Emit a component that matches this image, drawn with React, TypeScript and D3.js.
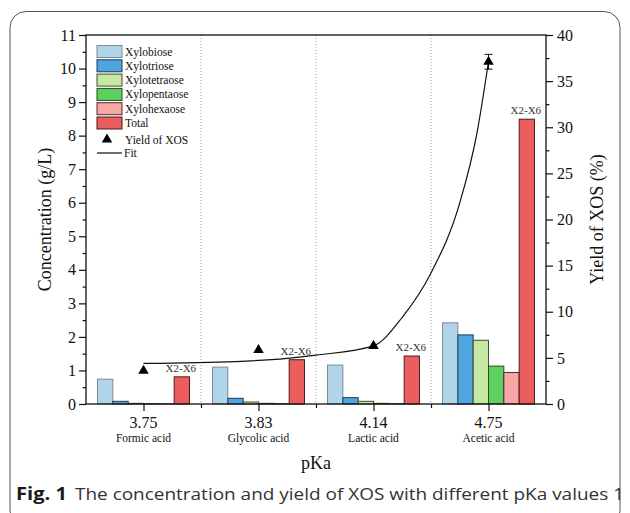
import React, { useEffect, useRef } from 'react';
import * as d3 from 'd3';

// categories
const pKaLabels = ['3.75', '3.83', '4.14', '4.75'];
const acidNames = ['Formic acid', 'Glycolic acid', 'Lactic acid', 'Acetic acid'];
const seriesNames = ['Xylobiose', 'Xylotriose', 'Xylotetraose', 'Xylopentaose', 'Xylohexaose', 'Total'];

// concentration (g/L), per acid
const xylobiose = [0.74, 1.1, 1.16, 2.42];
const xylotriose = [0.08, 0.17, 0.19, 2.06];
const xylotetraose = [0.02, 0.06, 0.08, 1.9];
const xylopentaose = [0.01, 0.02, 0.02, 1.13];
const xylohexaose = [0.005, 0.01, 0.01, 0.94];
const total = [0.81, 1.32, 1.43, 8.49];

// yield of XOS (%)
const yieldXOS = [3.6, 5.85, 6.3, 37.1];
const yieldErr = [0, 0, 0, 0.8];

// fit curve (x = category index, y = yield %)
const fitIndex = [0, 0.8, 1.25, 1.5, 2, 2.25, 2.5, 2.75, 2.9, 3];
const fitYield = [4.4, 4.6, 4.95, 5.3, 6.3, 9.4, 14.2, 21.8, 29.4, 37.1];

const concTicks = [0, 1, 2, 3, 4, 5, 6, 7, 8, 9, 10, 11];
const yieldTicks = [0, 5, 10, 15, 20, 25, 30, 35, 40];

const fills = ['#b0d4e8', '#4ea5e0', '#c6e8a2', '#5fcf5f', '#f9a6a6', '#ec5d5d'];
const strokes = ['#7d8b95', '#1f3b55', '#3f4f30', '#244d24', '#4d2b2b', '#4a1c1c'];

const serif = '"Liberation Serif", "Times New Roman", serif';

const Chart = ({ width = 630, height = 513 }) => {
  const svgRef = useRef<SVGSVGElement>(null);

  useEffect(() => {
    const svgEl = d3.select(svgRef.current);
    svgEl.selectAll('*').remove();
    svgEl.attr('width', width).attr('height', height);

    const left = 86, right = 546, top = 35, bottom = 404;
    const values = [xylobiose, xylotriose, xylotetraose, xylopentaose, xylohexaose, total];

    // outer rounded frame
    svgEl.append('rect')
      .attr('x', 10).attr('y', 11.5)
      .attr('width', 610).attr('height', 515)
      .attr('rx', 16)
      .style('fill', 'none')
      .style('stroke', '#555')
      .style('stroke-width', 1);

    const x0 = d3.scaleBand<number>()
      .domain(d3.range(pKaLabels.length))
      .range([left, right])
      .padding(0);
    const x1 = d3.scaleBand<number>()
      .domain(d3.range(seriesNames.length))
      .range([0, x0.bandwidth()])
      .paddingInner(0)
      .paddingOuter(0.75);
    const xIdx = d3.scaleLinear()
      .domain([-0.5, pKaLabels.length - 0.5])
      .range([left, right]);

    const yC = d3.scaleLinear().domain([0, 11]).range([bottom, top]);
    const yY = d3.scaleLinear().domain([0, 40]).range([bottom, top]);

    const svg = svgEl.append('g');

    // dotted dividers
    for (let i = 1; i < pKaLabels.length; i++) {
      const xx = x0(i)!;
      svg.append('line')
        .attr('x1', xx).attr('x2', xx)
        .attr('y1', top).attr('y2', bottom)
        .style('stroke', '#9a9a9a')
        .style('stroke-width', 1)
        .style('stroke-dasharray', '1,2');
    }

    // bars
    pKaLabels.forEach((_, g) => {
      values.forEach((vals, s) => {
        const v = vals[g];
        svg.append('rect')
          .attr('x', x0(g)! + x1(s)!)
          .attr('y', yC(v))
          .attr('width', x1.bandwidth())
          .attr('height', bottom - yC(v))
          .style('fill', fills[s])
          .style('stroke', strokes[s])
          .style('stroke-width', 1);
      });
      svg.append('text')
        .attr('x', x0(g)! + x1(5)! + x1.bandwidth() / 2 - 1)
        .attr('y', yC(total[g]) - 5)
        .style('text-anchor', 'middle')
        .style('font-family', serif)
        .style('font-size', '11px')
        .style('fill', '#333')
        .text('X2-X6');
    });

    // fit curve
    const fitLine = d3.line<number>()
      .x((_, i) => xIdx(fitIndex[i]))
      .y(d => yY(d))
      .curve(d3.curveMonotoneX);
    svg.append('path')
      .attr('d', fitLine(fitYield))
      .style('fill', 'none')
      .style('stroke', '#111')
      .style('stroke-width', 1.2);

    // yield points + error bars
    const tri = d3.symbol().type(d3.symbolTriangle).size(48);
    yieldXOS.forEach((v, i) => {
      const cx = xIdx(i);
      if (yieldErr[i] > 0) {
        const y1 = yY(v + yieldErr[i]), y2 = yY(v - yieldErr[i]);
        svg.append('line').attr('x1', cx).attr('x2', cx).attr('y1', y1).attr('y2', y2)
          .style('stroke', '#111').style('stroke-width', 1);
        [y1, y2].forEach(yy => {
          svg.append('line').attr('x1', cx - 4).attr('x2', cx + 4).attr('y1', yy).attr('y2', yy)
            .style('stroke', '#111').style('stroke-width', 1);
        });
      }
      svg.append('path')
        .attr('d', tri()!)
        .attr('transform', `translate(${cx},${yY(v)})`)
        .style('fill', '#000');
    });

    // frame
    svg.append('rect')
      .attr('x', left).attr('y', top)
      .attr('width', right - left).attr('height', bottom - top)
      .style('fill', 'none')
      .style('stroke', '#111')
      .style('stroke-width', 1.3);

    // left axis
    const axisL = d3.axisLeft(yC).tickValues(concTicks).tickSize(7).tickPadding(3).tickSizeOuter(0);
    const gL = svg.append('g').attr('transform', `translate(${left},0)`).call(axisL);
    const axisLminor = d3.axisLeft(yC).tickValues(d3.range(0.5, 11, 1)).tickSize(3.5).tickFormat(() => '').tickSizeOuter(0);
    const gLm = svg.append('g').attr('transform', `translate(${left},0)`).call(axisLminor);

    // right axis
    const axisR = d3.axisRight(yY).tickValues(yieldTicks).tickSize(7).tickPadding(4).tickSizeOuter(0);
    const gR = svg.append('g').attr('transform', `translate(${right},0)`).call(axisR);
    const axisRminor = d3.axisRight(yY).tickValues(d3.range(2.5, 40, 5)).tickSize(3.5).tickFormat(() => '').tickSizeOuter(0);
    const gRm = svg.append('g').attr('transform', `translate(${right},0)`).call(axisRminor);

    // bottom axis: major at group centers, minor at dividers
    const axisB = d3.axisBottom(xIdx).tickValues(d3.range(pKaLabels.length)).tickSize(7).tickFormat(() => '').tickSizeOuter(0);
    const gB = svg.append('g').attr('transform', `translate(0,${bottom})`).call(axisB);
    const axisBminor = d3.axisBottom(xIdx).tickValues([0.5, 1.5, 2.5]).tickSize(4).tickFormat(() => '').tickSizeOuter(0);
    const gBm = svg.append('g').attr('transform', `translate(0,${bottom})`).call(axisBminor);

    [gL, gLm, gR, gRm, gB, gBm].forEach(g => {
      g.select('.domain').remove();
      g.selectAll('line').style('stroke', '#111').style('stroke-width', 1.2);
      g.selectAll('text')
        .style('font-family', serif)
        .style('font-size', '16px')
        .style('fill', '#111');
    });

    // category labels
    pKaLabels.forEach((lab, i) => {
      svg.append('text')
        .attr('x', xIdx(i)).attr('y', 428)
        .style('text-anchor', 'middle')
        .style('font-family', serif)
        .style('font-size', '16px')
        .style('fill', '#111')
        .text(lab);
      svg.append('text')
        .attr('x', xIdx(i)).attr('y', 441.5)
        .style('text-anchor', 'middle')
        .style('font-family', serif)
        .style('font-size', '11.5px')
        .style('fill', '#111')
        .text(acidNames[i]);
    });

    // axis titles
    svg.append('text')
      .attr('transform', `translate(51,${(top + bottom) / 2}) rotate(-90)`)
      .style('text-anchor', 'middle')
      .style('font-family', serif)
      .style('font-size', '18px')
      .style('fill', '#111')
      .text('Concentration (g/L)');
    svg.append('text')
      .attr('transform', `translate(603,${(top + bottom) / 2}) rotate(-90)`)
      .style('text-anchor', 'middle')
      .style('font-family', serif)
      .style('font-size', '18px')
      .style('fill', '#111')
      .text('Yield of XOS (%)');
    svg.append('text')
      .attr('x', (left + right) / 2).attr('y', 469)
      .style('text-anchor', 'middle')
      .style('font-family', serif)
      .style('font-size', '18px')
      .style('fill', '#111')
      .text('pKa');

    // legend
    const lg = svg.append('g').attr('transform', 'translate(97,45.5)');
    seriesNames.forEach((name, i) => {
      lg.append('rect')
        .attr('x', 0).attr('y', i * 14.3)
        .attr('width', 25).attr('height', 12)
        .style('fill', fills[i])
        .style('stroke', strokes[i])
        .style('stroke-width', 1);
      lg.append('text')
        .attr('x', 28).attr('y', i * 14.3 + 10)
        .style('font-family', serif)
        .style('font-size', '11.5px')
        .style('fill', '#111')
        .text(name);
    });
    lg.append('path')
      .attr('d', tri()!)
      .attr('transform', 'translate(10,94)')
      .style('fill', '#000');
    lg.append('text')
      .attr('x', 28).attr('y', 98)
      .style('font-family', serif)
      .style('font-size', '11.5px')
      .style('fill', '#111')
      .text('Yield of XOS');
    lg.append('line')
      .attr('x1', 0).attr('x2', 25).attr('y1', 107.5).attr('y2', 107.5)
      .style('stroke', '#111').style('stroke-width', 1.2);
    lg.append('text')
      .attr('x', 27).attr('y', 111.5)
      .style('font-family', serif)
      .style('font-size', '11.5px')
      .style('fill', '#111')
      .text('Fit');

    // caption
    svgEl.append('text')
      .attr('x', 16).attr('y', 500)
      .attr('textLength', 51)
      .attr('lengthAdjust', 'spacingAndGlyphs')
      .style('font-family', '"Open Sans", "Noto Sans", sans-serif')
      .style('font-weight', 'bold')
      .style('font-size', '17px')
      .style('fill', '#1a1a1a')
      .text('Fig. 1');
    svgEl.append('text')
      .attr('x', 75).attr('y', 500)
      .attr('textLength', 549)
      .attr('lengthAdjust', 'spacingAndGlyphs')
      .style('font-family', '"Open Sans", "Noto Sans", sans-serif')
      .style('font-size', '17px')
      .style('fill', '#333')
      .text('The concentration and yield of XOS with different pKa values 1');
  }, [width, height]);

  return <svg ref={svgRef} style={{ position: 'absolute', left: 0, top: 0 }}></svg>;
};

export default function App() {
  return <Chart />;
}
